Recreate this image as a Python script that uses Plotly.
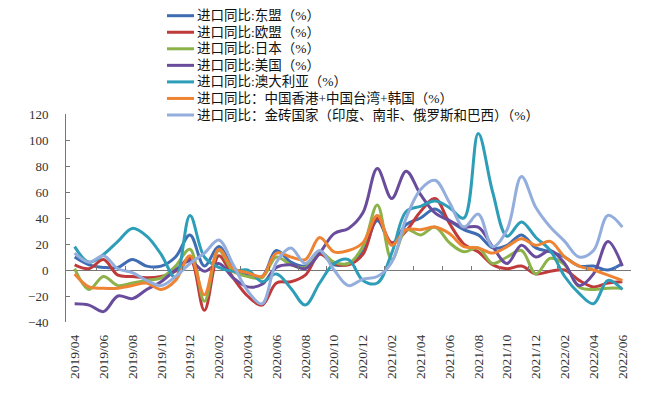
import plotly.graph_objects as go

months = ["2019/04","2019/05","2019/06","2019/07","2019/08","2019/09","2019/10","2019/11","2019/12",
          "2020/01","2020/02","2020/03","2020/04","2020/05","2020/06","2020/07","2020/08","2020/09",
          "2020/10","2020/11","2020/12","2021/01","2021/02","2021/03","2021/04","2021/05","2021/06",
          "2021/07","2021/08","2021/09","2021/10","2021/11","2021/12","2022/01","2022/02","2022/03",
          "2022/04","2022/05","2022/06"]

asean = [10, 4, 2, 2, 8, 3, 3, 10, 27, 3, 18, 2, -4, -5, 15, 6, 3, 13, 4, 5, 14, 38, 20, 35, 40, 47, 38,
         31, 27, 17, 19, 27, 17, 14, 10, 3, 3, 0, 5]
eu = [4, 1, 8, -4, -5, -6, -5, -1, 9, -31, 11, -6, -20, -27, -10, -9, -4, 12, 5, 4, 12, 40, 21, 30, 45, 55, 36,
      20, 14, 4, 1, 3, -3, -1, 0, -8, -13, -10, -9]
japan = [1, -15, -5, -12, -10, -8, -6, 3, 16, -24, 15, -1, -5, -6, 10, 4, 2, 14, 6, 5, 18, 50, 8, 31, 27, 33, 21,
         14, 17, 5, 10, 15, -3, 9, 4, -13, -15, -14, -14]
usa = [-26, -27, -32, -20, -22, -15, -9, 0, 7, -1, 5, -6, -13, -11, 2, 4, 1, 13, 28, 32, 44, 78, 55, 76, 58, 44, 38,
       33, 33, 18, 5, 19, 10, 15, 5, -12, -3, 22, 3]
australia = [18, 6, 12, 22, 32, 26, 12, -6, 42, 10, 2, -1, 0, -9, -3, -14, -27, -10, 5, 8, -8, -10, 13, 45, 49, 53, 48,
             40, 105, 60, 26, 37, 25, 15, -5, -18, -26, -8, -15]
hk_tw_kr = [-3, -13, -14, -14, -12, -10, -15, -8, 11, -19, 16, 1, -2, -5, 13, 10, 8, 25, 14, 15, 21, 42, 19, 31, 31, 33, 28,
            18, 17, 13, 18, 24, 19, 22, 10, 3, 0, -4, -8]
brics = [13, 6, 11, 1, -2, -8, -12, -5, 5, 13, 23, 4, -16, -26, 6, 17, 5, 15, 0, -12, -7, -5, 6, 40, 62, 69, 52,
         33, 43, 18, 31, 72, 48, 33, 22, 10, 15, 42, 33]

names = ["进口同比:东盟（%）", "进口同比:欧盟（%）", "进口同比:日本（%）", "进口同比:美国（%）",
         "进口同比:澳大利亚（%）", "进口同比：中国香港+中国台湾+韩国（%）",
         "进口同比：金砖国家（印度、南非、俄罗斯和巴西）（%）"]
series = [asean, eu, japan, usa, australia, hk_tw_kr, brics]
colors = ["#3F6DB3", "#BF3A3A", "#8CB24A", "#6A4C9C", "#2E9EB8", "#EE8433", "#93AEDC"]

y_ticks = [-40, -20, 0, 20, 40, 60, 80, 100, 120]
x_idx = list(range(len(months)))

FONT = "Liberation Serif, Noto Sans CJK SC, serif"

# page offset of the plot div (browser default body margin)
OFF = 8
W, H = 664, 394
# target plot rectangle in page pixels: x 66..631, y 114..322
ML, MT = 66 - OFF, 114 - OFF
MR = W - (631 - OFF)
MB = H - (322 - OFF)
PW, PH = W - ML - MR, H - MT - MB


def px_x(X):
    return (X - OFF - ML) / PW


def px_y(Y):
    return (H - MB - (Y - OFF)) / PH


fig = go.Figure()
for name, vals, col in zip(names, series, colors):
    fig.add_trace(go.Scatter(x=x_idx, y=vals, mode="lines", name=name, showlegend=False,
                             line=dict(color=col, width=3, shape="spline", smoothing=1.0)))

# hand-built legend (swatch + label) matching the compact row spacing of the original
shapes = []
annotations = []
for k, (name, col) in enumerate(zip(names, colors)):
    yc = 15.7 + 16.55 * k
    shapes.append(dict(type="line", xref="paper", yref="paper",
                       x0=px_x(167), x1=px_x(194), y0=px_y(yc), y1=px_y(yc),
                       line=dict(color=col, width=3)))
    annotations.append(dict(xref="paper", yref="paper", x=px_x(195), y=px_y(yc),
                            xanchor="left", yanchor="middle", showarrow=False, text=name,
                            font=dict(family=FONT, size=13.5, color="#111111")))

fig.update_layout(
    width=W, height=H,
    margin=dict(l=ML, r=MR, t=MT, b=MB, autoexpand=False),
    paper_bgcolor="white", plot_bgcolor="white",
    font=dict(family=FONT, size=13, color="#222222"),
    showlegend=False,
    shapes=shapes, annotations=annotations,
    xaxis=dict(range=[-0.6, 38.6], tickmode="array", automargin=False,
               tickvals=x_idx[::2], ticktext=months[::2], tickangle=-90,
               showline=False, showgrid=False, zeroline=False, ticks="",
               ticklabelstandoff=9,
               tickfont=dict(family=FONT, size=13.5, color="#333333")),
    xaxis2=dict(range=[-0.6, 38.6], overlaying="x", anchor="free", position=0.25,
                side="bottom", showline=False, showgrid=False, zeroline=False,
                ticks="inside", ticklen=4, tickcolor="#777777", automargin=False,
                tickmode="array", tickvals=[i + 1.5 for i in x_idx[::2][:-1]],
                showticklabels=False),
    yaxis=dict(range=[-40, 120], tickmode="array", tickvals=y_ticks, automargin=False,
               showline=True, linecolor="#777777", linewidth=1,
               ticks="inside", ticklen=4, tickcolor="#777777",
               showgrid=False, zeroline=True, zerolinecolor="#777777", zerolinewidth=1,
               ticklabelstandoff=14,
               tickfont=dict(family=FONT, size=13, color="#333333")),
)
fig.add_trace(go.Scatter(x=[0], y=[0], xaxis="x2", mode="lines", showlegend=False,
                         hoverinfo="skip", line=dict(color="rgba(0,0,0,0)")))

fig.write_html("out.html")
